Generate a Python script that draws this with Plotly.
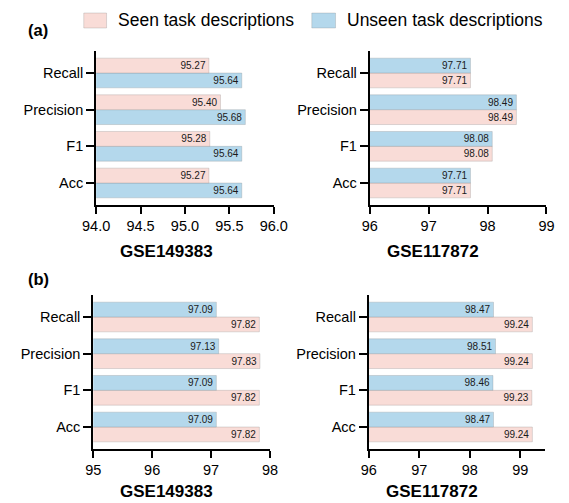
import plotly.graph_objects as go

# ---------------- data ----------------
metrics = ["Recall", "Precision", "F1", "Acc"]
legend_labels = ["Seen task descriptions", "Unseen task descriptions"]
dataset_titles = ["GSE149383", "GSE117872", "GSE149383", "GSE117872"]

a_gse149383_seen = [95.27, 95.40, 95.28, 95.27]
a_gse149383_unseen = [95.64, 95.68, 95.64, 95.64]
a_gse117872_seen = [97.71, 98.49, 98.08, 97.71]
a_gse117872_unseen = [97.71, 98.49, 98.08, 97.71]

b_gse149383_seen = [97.82, 97.83, 97.82, 97.82]
b_gse149383_unseen = [97.09, 97.13, 97.09, 97.09]
b_gse117872_seen = [99.24, 99.24, 99.23, 99.24]
b_gse117872_unseen = [98.47, 98.51, 98.46, 98.47]

x_ranges = [[94, 96], [96, 99], [95, 98], [96, 99.5]]
x_ticks = [[94.0, 94.5, 95.0, 95.5, 96.0], [96, 97, 98, 99], [95, 96, 97, 98], [96, 97, 98, 99]]
x_tickformats = [".1f", "d", "d", "d"]

# ---------------- style / layout ----------------
PAGE_W, PAGE_H = 569, 503
OFF = 8  # default page body margin of the html page
W, H = PAGE_W - OFF, PAGE_H - OFF


def px(x):
    return (x - OFF) / W


def py(y):
    return 1 - (y - OFF) / H


PINK = "#F9DCD7"
BLUE = "#B4D8EC"
EDGE = "rgba(120,120,120,0.35)"
FONT = "Liberation Sans, Arial, Helvetica, sans-serif"

# pixel boxes (page coords) for each panel: (x0, x1, ytop, ybottom)
boxes = [(86, 273, 51, 205), (374, 560, 51, 205), (83, 269, 295, 449), (373, 559, 295, 449)]
title_pos = [(160, 251), (441, 251), (160, 491), (440, 491)]

# order of traces per panel (first = lower bar in the pair)
panels = [
    [(a_gse149383_unseen, BLUE), (a_gse149383_seen, PINK)],
    [(a_gse117872_seen, PINK), (a_gse117872_unseen, BLUE)],
    [(b_gse149383_seen, PINK), (b_gse149383_unseen, BLUE)],
    [(b_gse117872_seen, PINK), (b_gse117872_unseen, BLUE)],
]

fig = go.Figure()
for i, pairs in enumerate(panels):
    sfx = "" if i == 0 else str(i + 1)
    for vals, col in pairs:
        fig.add_trace(go.Bar(
            x=vals, y=metrics, orientation="h",
            xaxis="x" + sfx, yaxis="y" + sfx,
            marker=dict(color=col, line=dict(color=EDGE, width=0.7)),
            texttemplate="%{x:.2f}", textposition="inside",
            insidetextanchor="end", constraintext="none",
            textfont=dict(family=FONT, size=10, color="#1a1a1a"),
            showlegend=False, cliponaxis=True,
        ))

layout = dict(
    width=W, height=H,
    margin=dict(l=0, r=0, t=0, b=0),
    paper_bgcolor="white", plot_bgcolor="white",
    barmode="group", bargap=0.19, bargroupgap=0,
    font=dict(family=FONT, color="black"),
)

for i, (x0, x1, yt, yb) in enumerate(boxes):
    sfx = "" if i == 0 else str(i + 1)
    layout["xaxis" + sfx] = dict(
        domain=[px(x0), px(x1)], anchor="y" + sfx,
        range=x_ranges[i], tickvals=x_ticks[i], tickformat=x_tickformats[i],
        showline=True, linecolor="black", linewidth=2,
        ticks="outside", ticklen=7, tickwidth=2, tickcolor="black",
        showgrid=False, zeroline=False,
        tickfont=dict(family=FONT, size=14.5, color="black"),
        fixedrange=True,
    )
    layout["yaxis" + sfx] = dict(
        domain=[py(yb), py(yt)], anchor="x" + sfx,
        type="category", categoryorder="array",
        categoryarray=list(reversed(metrics)), range=[-0.6, 3.6],
        showline=True, linecolor="black", linewidth=2,
        ticks="outside", ticklen=8, tickwidth=2, tickcolor="black",
        showgrid=False, zeroline=False,
        tickfont=dict(family=FONT, size=14.5, color="black"),
        fixedrange=True,
    )

fig.update_layout(**layout)

# axis titles
for (tx, ty), lab in zip(title_pos, dataset_titles):
    fig.add_annotation(xref="paper", yref="paper", x=px(tx), y=py(ty),
                       xanchor="center", yanchor="middle", showarrow=False,
                       text="<b>" + lab + "</b>", font=dict(family=FONT, size=17, color="black"))

# legend (manual swatches + labels)
legend_items = [(73, 97, 107, PINK, legend_labels[0]), (313, 338, 348, BLUE, legend_labels[1])]
for sx0, sx1, tx, col, lab in legend_items:
    fig.add_shape(type="rect", xref="paper", yref="paper",
                  x0=px(sx0), x1=px(sx1), y0=py(28), y1=py(13),
                  fillcolor=col, line=dict(color=EDGE, width=0.7))
    fig.add_annotation(xref="paper", yref="paper", x=px(tx), y=py(20),
                       xanchor="left", yanchor="middle", showarrow=False,
                       text=lab, font=dict(family=FONT, size=17.5, color="black"))

for lab, yc in [("(a)", 30), ("(b)", 279)]:
    fig.add_annotation(xref="paper", yref="paper", x=px(12), y=py(yc),
                       xanchor="left", yanchor="middle", showarrow=False,
                       text="<b>" + lab + "</b>", font=dict(family=FONT, size=16.5, color="black"))

fig.write_html("out.html")
